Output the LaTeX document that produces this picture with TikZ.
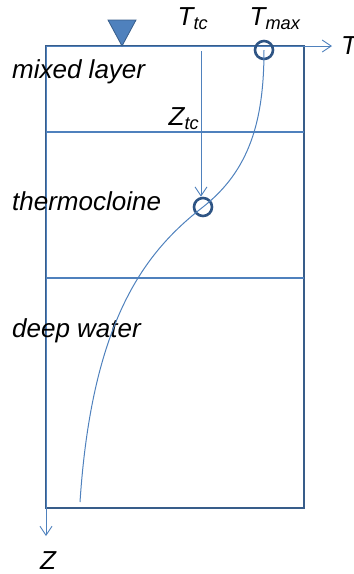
\documentclass[tikz,border=0pt]{standalone}
\usepackage{fontspec}
\setmainfont{Liberation Sans}
\usepackage{xcolor}
\definecolor{axisblue}{RGB}{79, 129, 189}
\definecolor{boxblue}{RGB}{56, 93, 138}
\definecolor{markblue}{RGB}{46, 84, 132}
\usepackage{tikz}
\usetikzlibrary{arrows.meta, positioning, calc}

\begin{document}
\begin{tikzpicture}[x=1pt, y=-1pt,
    layer/.style={font=\fontsize{26}{28}\selectfont\itshape, anchor=west, inner sep=0pt},
    symb/.style={font=\fontsize{26}{28}\selectfont\itshape, inner sep=0pt},
    probe/.style={circle, draw=markblue, line width=2.6pt, minimum size=18pt, inner sep=0pt},
    axis/.style={draw=axisblue, line width=0.9pt, -{Straight Barb[length=9pt, width=12pt]}},
    border/.style={draw=boxblue, line width=1.2pt},
    profile/.style={draw=axisblue, line width=1pt}
  ]
    \useasboundingbox (0,0) rectangle (354,574);

    % box and layer limits
    \coordinate (o) at (46,46);
    \draw[border] (46,46) rectangle (304,508);
    \draw[border, draw=axisblue] (46,132) -- (304,132);
    \draw[border, draw=axisblue] (46,278) -- (304,278);

    % axes
    \coordinate (tend) at (332,46);
    \coordinate (zend) at (46,536);
    \draw[axis] (o) -- (tend);
    \draw[axis] (o) -- (zend);
    \node[symb, anchor=west] (tlab) at (341,46) {T};
    \node[symb] (zlab) at (48,561) {Z};

    % sea surface
    \draw[fill=axisblue, draw=boxblue, line width=0.8pt] (108,20) -- (136,20) -- (122,46) -- cycle;

    % layer names
    \node[layer] (mix) at (12,72) {mixed layer};
    \node[layer] (thc) at (12,201) {thermocloine};
    \node[layer] (deep) at (12,331) {deep water};

    % temperature profile
    \node[probe] (tmax) at (264,50) {};
    \node[probe] (tc) at (203,207) {};
    \coordinate (bot) at (80,502);
    \draw[profile] (tmax.center) .. controls (264,120) and (250,170) .. (tc.center)
      .. controls (145,252) and (92,320) .. (bot);

    \node[symb] (ttc) at (193,19) {T\textsubscript{tc}};
    \node[symb] (tmx) at (275,19) {T\textsubscript{max}};
    \node[symb] (ztc) at (184,119) {Z\textsubscript{tc}};
    \coordinate (ttop) at (201,51);
    \draw[axis] (ttop) -- (tc.north -| ttop);
  \end{tikzpicture}
\end{document}
